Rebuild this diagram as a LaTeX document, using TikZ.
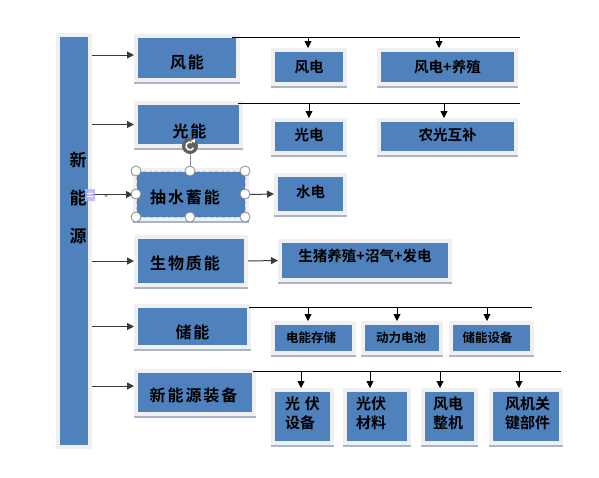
\documentclass[tikz,border=0pt]{standalone}
\usepackage{fontspec}
\newfontfamily\cjk{Noto Sans CJK SC}[BoldFont={Noto Sans CJK SC Bold}]
\usetikzlibrary{arrows.meta}
\definecolor{boxblue}{HTML}{4F81BD}
\definecolor{framec}{HTML}{F0F0F0}
\definecolor{shadowc}{HTML}{A9B6C8}
\definecolor{arrgray}{HTML}{3A3A3A}
\definecolor{handlec}{HTML}{8A8A8A}
\tikzset{
  frm/.style={fill=boxblue, draw=framec, line width=4pt, inner sep=0pt},
  l1/.style={inner sep=0pt, text=black, font=\cjk\bfseries\fontsize{16pt}{18pt}\selectfont\addfontfeature{LetterSpace=12}},
  l2/.style={inner sep=0pt, text=black, font=\cjk\bfseries\fontsize{14.5pt}{17pt}\selectfont},
  l3/.style={inner sep=0pt, text=black, font=\cjk\bfseries\fontsize{12.5pt}{15pt}\selectfont},
  l4/.style={inner sep=0pt, text=black, align=left, font=\cjk\bfseries\fontsize{15pt}{19pt}\selectfont},
  tip/.style={-{Triangle[length=7pt,width=7pt]}},
  larr/.style={tip, draw=arrgray, line width=1pt},
  drop/.style={tip, draw=black, line width=0.9pt},
  bus/.style={draw=black, line width=1pt},
  shadowline/.style={draw=shadowc, line width=1.5pt},
  handle/.style={circle, draw=handlec, fill=white, line width=0.8pt, minimum size=10pt, inner sep=0pt}
}
\begin{document}
\begin{tikzpicture}[x=1pt,y=-1pt]
\useasboundingbox[fill=white] (0,0) rectangle (599,477);

% left bar
\node[frm, minimum width=32pt, minimum height=412pt] (bar) at (74,241) {};
\node[inner sep=0pt, align=center, font=\cjk\bfseries\fontsize{17pt}{38pt}\selectfont] (bart) at (78,198) {新\\能\\源};

% level 1
\node[frm, minimum width=102pt, minimum height=44pt, label={[l1,yshift=-4pt]center:风能}] (fn) at (187,58) {};
\node[frm, minimum width=105pt, minimum height=43pt, label={[l1,xshift=1pt,yshift=-6.5pt]center:光能}] (gn) at (188.5,124.5) {};
\node[frm, minimum width=112pt, minimum height=49pt, label={[l1,xshift=-6pt,yshift=-2.5pt]center:抽水蓄能}] (cs) at (191,194.5) {};
\node[frm, minimum width=110pt, minimum height=48pt, label={[l1,xshift=-6pt,yshift=-2pt]center:生物质能}] (sw) at (191,261) {};
\node[frm, minimum width=113pt, minimum height=41pt, label={[l1,yshift=-5.5pt]center:储能}] (cn) at (192.5,326.5) {};
\node[frm, minimum width=118pt, minimum height=43pt, label={[l1,xshift=-1.5pt,yshift=-2.5pt]center:新能源装备}] (zb) at (195,392.5) {};

% level 2
\node[frm, minimum width=72pt, minimum height=34pt, label={[l2]center:风电}] (fd) at (309,67) {};
\node[frm, minimum width=137pt, minimum height=34pt, label={[l2]center:风电+养殖}] (fy) at (447.5,67) {};
\node[frm, minimum width=72pt, minimum height=33pt, label={[l2,yshift=1.5pt]center:光电}] (gd) at (309,136.5) {};
\node[frm, minimum width=137pt, minimum height=33pt, label={[l2,yshift=1.5pt]center:农光互补}] (ng) at (447.5,136.5) {};
\node[frm, minimum width=69pt, minimum height=38pt, label={[l2,yshift=2pt]center:水电}] (sd) at (310.5,194) {};
\node[frm, minimum width=170pt, minimum height=39pt, label={[l2,yshift=4.5pt]center:生猪养殖+沼气+发电}] (sz) at (365,260.5) {};
\node[frm, minimum width=81pt, minimum height=30pt, label={[l3,xshift=-2.5pt]center:电能存储}] (dn) at (313.5,338) {};
\node[frm, minimum width=78pt, minimum height=30pt, label={[l3,xshift=-1pt]center:动力电池}] (dl) at (402,338) {};
\node[frm, minimum width=81pt, minimum height=30pt, label={[l3,xshift=-4pt]center:储能设备}] (cb) at (491.5,338) {};
\node[frm, minimum width=59pt, minimum height=53pt, label={[l4,yshift=3pt]center:光\hspace{5pt}伏\\设备}] (gs) at (302.5,416.5) {};
\node[frm, minimum width=64pt, minimum height=53pt, label={[l4,xshift=-6pt,yshift=3pt]center:光伏\\材料}] (gc) at (377,416.5) {};
\node[frm, minimum width=53pt, minimum height=53pt, label={[l4,xshift=-1.5pt,yshift=3pt]center:风电\\整机}] (fz) at (449.5,416.5) {};
\node[frm, minimum width=70pt, minimum height=53pt, label={[l4,xshift=1.5pt,yshift=3pt]center:风机关\\键部件}] (fj) at (526,416.5) {};

% shadows
\foreach \n in {fn,gn,cs,sw,cn,zb,fd,fy,gd,ng,sd,sz,dn,dl,cb,gs,gc,fz,fj}
  \draw[shadowline] ([yshift=-0.75pt]\n.south west) -- ([yshift=-0.75pt]\n.south east);

% arrows from bar
\coordinate (fnin) at ([yshift=3pt]fn.west);
\coordinate (zbin) at ([yshift=6.5pt]zb.west);
\draw[larr] (bar.east |- fnin) -- (fnin);
\draw[larr] (bar.east |- gn.west) -- (gn.west);
\draw[larr] (bar.east |- cs.west) -- (cs.west);
\draw[larr] (bar.east |- sw.west) -- (sw.west);
\draw[larr] (bar.east |- cn.west) -- (cn.west);
\draw[larr] (bar.east |- zbin) -- (zbin);

% direct arrows
\draw[larr] (cs.east) -- (sd.west);
\draw[larr] (sw.east) -- (sz.west);

% buses
\coordinate (b1s) at (232,37); \coordinate (b1e) at (520,37);
\coordinate (b2s) at (238,103); \coordinate (b2e) at (520,103);
\coordinate (b5s) at (249,307); \coordinate (b5e) at (532,307);
\coordinate (b6s) at (253,371); \coordinate (b6e) at (561,371);
\draw[bus] (b1s) -- (b1e);
\draw[bus] (b2s) -- (b2e);
\draw[bus] (b5s) -- (b5e);
\draw[bus] (b6s) -- (b6e);

\draw[drop] ([xshift=-1pt,yshift=11pt]fd.north) -- ([xshift=-1pt]fd.north);
\draw[drop] ([xshift=-8.5pt,yshift=11pt]fy.north) -- ([xshift=-8.5pt]fy.north);
\draw[drop] ([yshift=15pt]gd.north) -- (gd.north);
\draw[drop] ([xshift=-3.5pt,yshift=15pt]ng.north) -- ([xshift=-3.5pt]ng.north);
\draw[drop] ([xshift=-5.5pt,yshift=14pt]dn.north) -- ([xshift=-5.5pt]dn.north);
\draw[drop] ([xshift=-5pt,yshift=14pt]dl.north) -- ([xshift=-5pt]dl.north);
\draw[drop] ([xshift=-4.5pt,yshift=14pt]cb.north) -- ([xshift=-4.5pt]cb.north);
\draw[drop] ([xshift=-1.5pt,yshift=17pt]gs.north) -- ([xshift=-1.5pt]gs.north);
\draw[drop] ([xshift=-7pt,yshift=17pt]gc.north) -- ([xshift=-7pt]gc.north);
\draw[drop] ([xshift=-9.5pt,yshift=17pt]fz.north) -- ([xshift=-9.5pt]fz.north);
\draw[drop] ([xshift=-7pt,yshift=17pt]fj.north) -- ([xshift=-7pt]fj.north);

% selection handles on 抽水蓄能
\draw[gray!45, dashed, line width=0.6pt] (136,171) rectangle (245,217);
\draw[handlec, line width=0.8pt] (190,154) -- (190,166);
\fill[gray!75!black] (190,146) circle (8pt);
\draw[white, line width=1.6pt] (190,146) ++(60:4pt) arc (60:330:4pt);
\fill[white] (194.5,143) -- (191,140.5) -- (195.5,139) -- cycle;
\foreach \hx/\hy in {136/171,190/171,245/171,136/194,245/194,136/217,190/217,245/217}
  \node[handle] at (\hx,\hy) {};

% small paste icon
\fill[blue!30, opacity=0.8] (85,189) rectangle (95,201);
\draw[white, line width=0.8pt] (87,193) -- (93,193) (87,196) -- (93,196);
\fill[gray!70] (104,195) -- (108,195) -- (106,197.5) -- cycle;
\end{tikzpicture}
\end{document}
